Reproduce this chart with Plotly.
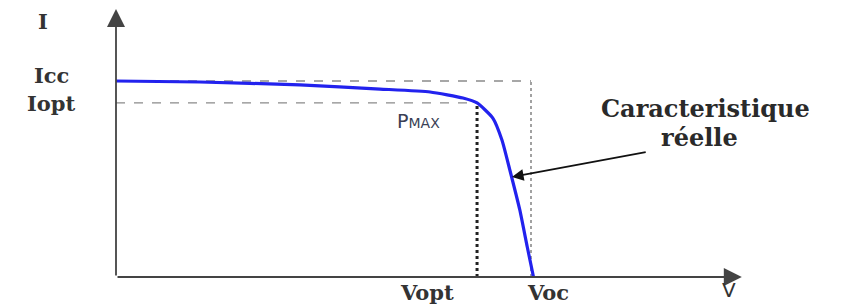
import plotly.graph_objects as go

# I-V characteristic (normalised: V / Voc, I / Icc)
v_curve = [0.0, 0.202, 0.443, 0.636, 0.757, 0.836, 0.870, 0.908, 0.930, 0.949, 0.973, 0.991, 1.006]
i_curve = [1.0, 0.995, 0.980, 0.959, 0.944, 0.913, 0.888, 0.811, 0.699, 0.546, 0.342, 0.153, 0.0]

I_CC = 1.0
I_OPT = 0.888
V_OPT = 0.870
V_OC = 1.0
V_AXIS_END = 1.508
I_AXIS_END = 1.367
arrow_tail = (1.28, 0.638)
arrow_head = (0.954, 0.510)

fig = go.Figure()

# reference lines
fig.add_trace(go.Scatter(x=[0, V_OC], y=[I_CC, I_CC], mode="lines",
                         line=dict(color="#8a8a8a", width=1.3, dash="dash"), hoverinfo="skip"))
fig.add_trace(go.Scatter(x=[V_OC, V_OC], y=[0, I_CC], mode="lines",
                         line=dict(color="#8a8a8a", width=1.6, dash="dot"), hoverinfo="skip"))
fig.add_trace(go.Scatter(x=[0, V_OPT], y=[I_OPT, I_OPT], mode="lines",
                         line=dict(color="#8a8a8a", width=1.3, dash="dash"), hoverinfo="skip"))
fig.add_trace(go.Scatter(x=[V_OPT, V_OPT], y=[0, I_OPT], mode="lines",
                         line=dict(color="#222222", width=3, dash="dot"), hoverinfo="skip"))

# characteristic curve
fig.add_trace(go.Scatter(x=v_curve, y=i_curve, mode="lines",
                         line=dict(color="#2222ee", width=3.2, shape="spline", smoothing=0.5),
                         hoverinfo="skip"))

serif = "DejaVu Serif"
lab = dict(family=serif, size=21, color="#333333", weight="bold")

ann = []
# axes with arrows
for (hx, hy) in [(0, I_AXIS_END), (V_AXIS_END, 0)]:
    ann.append(dict(x=hx, y=hy, ax=0, ay=0, xref="x", yref="y", axref="x", ayref="y",
                    showarrow=True, arrowhead=2, arrowsize=2.0, arrowwidth=1.8,
                    arrowcolor="#444444", standoff=0, startstandoff=0, text=""))
# pointer arrow
ann.append(dict(x=arrow_head[0], y=arrow_head[1], ax=arrow_tail[0], ay=arrow_tail[1],
                xref="x", yref="y", axref="x", ayref="y",
                showarrow=True, arrowhead=2, arrowsize=1.3, arrowwidth=1.8, arrowcolor="#111111",
                standoff=0, text=""))

# labels
ann += [
    dict(x=-0.175, y=1.305, xref="x", yref="y", text="I", showarrow=False, font=lab),
    dict(x=-0.155, y=I_CC + 0.03, xref="x", yref="y", text="Icc", showarrow=False, font=lab),
    dict(x=-0.155, y=I_OPT - 0.005, xref="x", yref="y", text="Iopt", showarrow=False, font=lab),
    dict(x=V_OPT - 0.12, y=-0.077, xref="x", yref="y", text="Vopt", showarrow=False, font=lab),
    dict(x=V_OC + 0.04, y=-0.077, xref="x", yref="y", text="Voc", showarrow=False, font=lab),
    dict(x=V_AXIS_END - 0.03, y=-0.065, xref="x", yref="y", text="V", showarrow=False,
         font=dict(family="DejaVu Sans", size=20, color="#333333")),
    dict(x=V_OPT - 0.14, y=I_OPT - 0.09, xref="x", yref="y",
         text="P<span style='font-size:14px'>MAX</span>", showarrow=False,
         font=dict(family="DejaVu Sans", size=19, color="#3a3f55")),
    dict(x=1.42, y=0.86, xref="x", yref="y", text="Caracteristique", showarrow=False,
         font=dict(family=serif, size=24, color="#2a2a2a", weight="bold")),
    dict(x=1.405, y=0.713, xref="x", yref="y", text="réelle", showarrow=False,
         font=dict(family=serif, size=24, color="#2a2a2a", weight="bold")),
]

# the page body has an 8px margin: size the figure to the remaining area
fig.update_layout(
    width=849, height=298,
    margin=dict(l=0, r=0, t=0, b=0),
    paper_bgcolor="white", plot_bgcolor="white",
    showlegend=False,
    xaxis=dict(range=[(8 - 116) / 415, (857 - 116) / 415], visible=False, fixedrange=True),
    yaxis=dict(range=[-29 / 196, (277 - 8) / 196], visible=False, fixedrange=True),
    annotations=ann,
)

fig.write_html("out.html")
